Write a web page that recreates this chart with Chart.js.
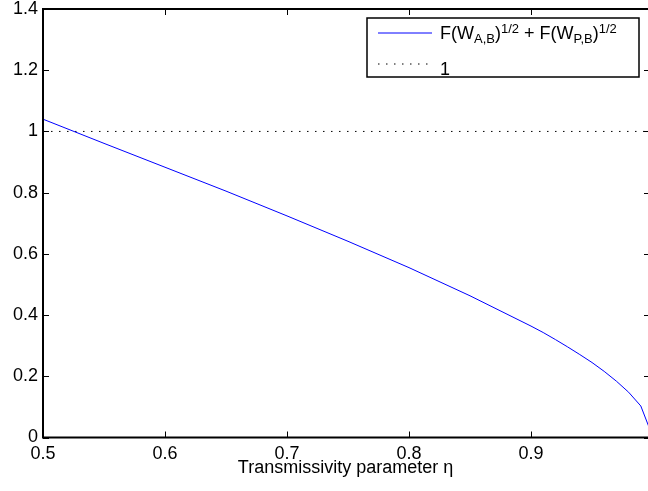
<!DOCTYPE html>
<html>
<head>
<meta charset="utf-8">
<script src="https://cdn.jsdelivr.net/npm/chart.js@4.4.1/dist/chart.umd.min.js"></script>
<style>
  body { margin: 0; background: #fff; }
  canvas { display: block; }
</style>
</head>
<body>
<canvas id="c-fidelity" width="648" height="491"></canvas>
<script>
// values
var etaValues = [0.5, 0.55, 0.6, 0.65, 0.7, 0.75, 0.8, 0.85, 0.9, 0.91, 0.92, 0.93, 0.94, 0.95, 0.96, 0.97, 0.98, 0.99, 1.0]
var sumValues = [1.04, 0.961, 0.883, 0.805, 0.724, 0.641, 0.555, 0.463, 0.364, 0.343, 0.320, 0.296, 0.271, 0.245, 0.216, 0.184, 0.148, 0.103, 0]
var refEta = [0.5, 1.0]
var refValues = [1, 1]
var xTicks = [0.5, 0.6, 0.7, 0.8, 0.9]
var xTickLabels = ['0.5', '0.6', '0.7', '0.8', '0.9']
var yTicks = [0, 0.2, 0.4, 0.6, 0.8, 1, 1.2, 1.4]
var yTickLabels = ['0', '0.2', '0.4', '0.6', '0.8', '1', '1.2', '1.4']

var FONT = 'Liberation Sans, Arial, Helvetica, sans-serif'

function toPoints(xs, ys) {
  return xs.map(function (v, i) { return { x: v, y: ys[i] } })
}

// MATLAB style box, inward ticks and the legend with sub/superscripts
var matlabFrame = {
  id: 'matlabFrame',
  afterDatasetsDraw: function (chart) {
    var ctx = chart.ctx
    var a = chart.chartArea
    var xs = chart.scales.x
    var ys = chart.scales.y
    var tick = 6
    ctx.save()
    ctx.strokeStyle = '#000'
    ctx.lineWidth = 1
    ctx.beginPath()
    xTicks.forEach(function (v) {
      var px = Math.round(xs.getPixelForValue(v)) + 0.5
      ctx.moveTo(px, a.bottom)
      ctx.lineTo(px, a.bottom - tick)
      ctx.moveTo(px, a.top)
      ctx.lineTo(px, a.top + tick)
    })
    yTicks.forEach(function (v) {
      var py = Math.round(ys.getPixelForValue(v)) + 0.5
      ctx.moveTo(a.left, py)
      ctx.lineTo(a.left + tick, py)
      ctx.moveTo(a.right, py)
      ctx.lineTo(a.right - tick + 2, py)
    })
    ctx.stroke()

    ctx.lineWidth = 2
    ctx.beginPath()
    ctx.moveTo(a.right + 2, a.top)
    ctx.lineTo(a.left, a.top)
    ctx.lineTo(a.left, a.bottom)
    ctx.lineTo(a.right + 2, a.bottom)
    ctx.stroke()

    // legend box
    var bx = 367, by = 18, bw = 272, bh = 59
    ctx.fillStyle = '#fff'
    ctx.fillRect(bx, by, bw, bh)
    ctx.lineWidth = 1.5
    ctx.strokeRect(bx, by, bw, bh)

    ctx.lineWidth = 1
    ctx.strokeStyle = '#0000ff'
    ctx.beginPath()
    ctx.moveTo(378, 33)
    ctx.lineTo(432, 33)
    ctx.stroke()

    ctx.strokeStyle = '#000'
    ctx.setLineDash([1.5, 6.5])
    ctx.beginPath()
    ctx.moveTo(378, 64)
    ctx.lineTo(432, 64)
    ctx.stroke()
    ctx.setLineDash([])

    ctx.fillStyle = '#000'
    ctx.textBaseline = 'alphabetic'
    ctx.textAlign = 'left'
    var parts = [
      ['F(W', 0], ['A,B', 1], [')', 0], ['1/2', 2],
      [' + F(W', 0], ['P,B', 1], [')', 0], ['1/2', 2]
    ]
    var x = 440, base = 39
    parts.forEach(function (p) {
      var size = p[1] === 0 ? 18 : 13
      var dy = p[1] === 1 ? 4 : (p[1] === 2 ? -6 : 0)
      ctx.font = size + 'px ' + FONT
      ctx.fillText(p[0], x, base + dy)
      x += ctx.measureText(p[0]).width
    })
    ctx.font = '18px ' + FONT
    ctx.fillText('1', 440, 75)
    ctx.restore()
  }
}

var ctx = document.getElementById('c-fidelity').getContext('2d')
new Chart(ctx, {
  type: 'line',
  data: {
    datasets: [
      {
        label: 'F(W_A,B)^1/2 + F(W_P,B)^1/2',
        data: toPoints(etaValues, sumValues),
        borderColor: '#0000ff',
        borderWidth: 1,
        pointRadius: 0,
        tension: 0,
        fill: false
      },
      {
        label: '1',
        data: toPoints(refEta, refValues),
        borderColor: '#000',
        borderWidth: 1,
        borderDash: [1.5, 6.5],
        pointRadius: 0,
        fill: false
      }
    ]
  },
  options: {
    responsive: false,
    animation: false,
    devicePixelRatio: 1,
    layout: { padding: { top: 9, right: 0, left: 0, bottom: 0 } },
    plugins: {
      legend: { display: false },
      tooltip: { enabled: false }
    },
    scales: {
      x: {
        type: 'linear',
        min: 0.5,
        max: 0.9959,
        afterBuildTicks: function (s) { s.ticks = xTicks.map(function (v) { return { value: v } }) },
        afterFit: function (s) { s.height = 53.5; s.paddingLeft = 0; s.paddingRight = 0 },
        grid: { display: false, drawTicks: false },
        border: { display: false },
        ticks: {
          color: '#000',
          font: { family: FONT, size: 18 },
          padding: 6,
          maxRotation: 0,
          autoSkip: false,
          callback: function (v, i) { return xTickLabels[i] }
        },
        title: {
          display: true,
          text: 'Transmissivity parameter η',
          color: '#000',
          font: { family: FONT, size: 18 },
          padding: { top: 0, bottom: 12 }
        }
      },
      y: {
        min: 0,
        max: 1.4,
        afterBuildTicks: function (s) { s.ticks = yTicks.map(function (v) { return { value: v } }) },
        afterFit: function (s) { s.width = 43; s.paddingTop = 0; s.paddingBottom = 0 },
        grid: { display: false, drawTicks: false },
        border: { display: false },
        ticks: {
          color: '#000',
          font: { family: FONT, size: 18 },
          padding: 5,
          autoSkip: false,
          callback: function (v, i) { return yTickLabels[i] }
        }
      }
    }
  },
  plugins: [matlabFrame]
})
</script>
</body>
</html>
